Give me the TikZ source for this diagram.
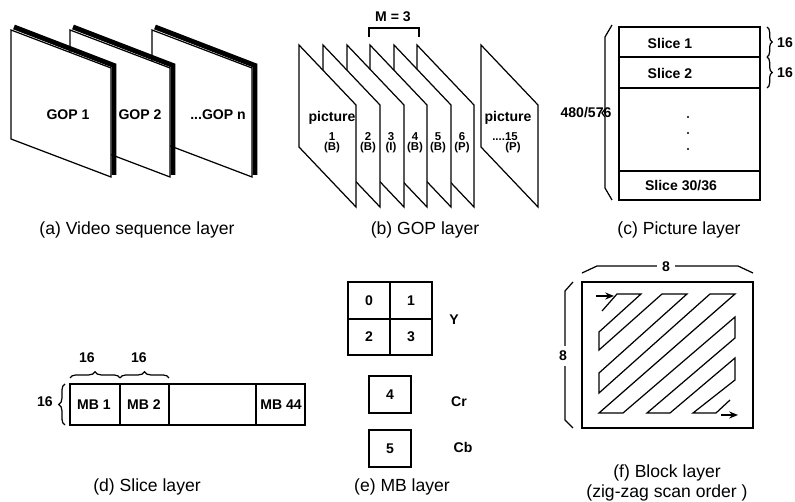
\documentclass[tikz,border=0pt]{standalone}
\usepackage{fontspec}
\setmainfont{Liberation Sans}
\usetikzlibrary{arrows.meta,decorations.pathreplacing}

\begin{document}
\begin{tikzpicture}[
  x=0.02cm, y=-0.02cm,
  line width=0.7pt,
  every node/.style={inner sep=0pt},
  label/.style={font=\fontsize{8}{9}\selectfont\bfseries},
  small/.style={font=\fontsize{6.5}{7}\selectfont\bfseries},
  caption/.style={font=\fontsize{10}{11.5}\selectfont, align=center},
  page/.style={draw, fill=white, line join=miter},
  shadow/.style={line width=2.8pt, line join=miter},
  thickbox/.style={draw, line width=1.3pt},
  brace/.style={decorate, decoration={brace, amplitude=#1}},
  brace/.default=3pt,
  arrow/.style={-{Stealth[length=5pt,width=4pt]}, line width=0.8pt}
]
\useasboundingbox (0,0) rectangle (795,502);

% (a) video sequence
\foreach \px in {152,70,11} {
  \draw[shadow] (\px+3,27) -- (\px+103,65.5) -- (\px+103,175);
  \draw[page] (\px,30) -- (\px+100,68) -- (\px+100,177) -- (\px,139) -- cycle;
}
\node[label] (gop1) at (68,115) {GOP 1};
\node[label] (gop2) at (140,115) {GOP 2};
\node[label] (gopn) at (218,115) {...GOP n};
\node[caption] (capa) at (137,230) {(a) Video sequence layer};

% (b) group of pictures
\foreach \px in {417,394,370,347,323,299}
  \draw[page] (\px,45) -- (\px+57,105) -- (\px+57,207) -- (\px,147) -- cycle;
\draw[page] (481,45) -- (538,105) -- (538,207) -- (481,147) -- cycle;
\draw (369,37) -- (369,28) -- (419,28) -- (419,37);
\node[label] (mthree) at (393,17) {M = 3};
\node[label] (pic1) at (332,118) {picture};
\foreach \n/\t/\x in {1/B/332, 2/B/368, 3/I/391, 4/B/415, 5/B/438, 6/P/462} {
  \node[small] (num\n) at (\x,137) {\n};
  \node[small] (type\n) at (\x,148) {(\t)};
}
\node[label] (pic15) at (508,118) {picture};
\node[small] (num15) at (505,137) {....15};
\node[small] (type15) at (513,148) {(P)};
\node[caption] (capb) at (425,230) {(b) GOP layer};

% (c) picture
\draw (619,27) rectangle (760,200);
\draw (619,57) -- (760,57);
\draw (619,88) -- (760,88);
\draw (619,171) -- (760,171);
\node[label] (slice1) at (670,43) {Slice 1};
\node[label] (slice2) at (670,73) {Slice 2};
\node[label] (slicen) at (681,186) {Slice 30/36};
\foreach \y in {117,133,149}
  \fill (688,\y) circle (1.1);
\draw (612,25) -- (605,37) -- (605,109) -- (602,113) -- (605,117) -- (605,188) -- (612,200);
\node[label] (lines) at (586,113) {480/576};
\draw[brace] (767,27) -- (767,57);
\draw[brace] (767,57) -- (767,88);
\node[label] (sl16a) at (785,43) {16};
\node[label] (sl16b) at (785,73) {16};
\node[caption] (capc) at (679,230) {(c) Picture layer};

% (d) slice
\draw (70,384) rectangle (305,425);
\foreach \x in {120,169,256}
  \draw (\x,384) -- (\x,425);
\node[label] (mb1) at (94,405) {MB 1};
\node[label] (mb2) at (144,405) {MB 2};
\node[label] (mb44) at (281,405) {MB 44};
\draw[brace=3.5pt] (70,378) -- (120,378);
\draw[brace=3.5pt] (120,378) -- (169,378);
\draw[brace=3.5pt] (65,425) -- (65,384);
\node[label] (mbw1) at (87,358) {16};
\node[label] (mbw2) at (139,358) {16};
\node[label] (mbh) at (45,402) {16};
\node[caption] (capd) at (147,487) {(d) Slice layer};

% (e) macroblock
\draw[thickbox] (348,282) rectangle (432,355);
\draw[line width=1.3pt] (390,282) -- (390,355);
\draw[line width=1.3pt] (348,319) -- (432,319);
\node[label] (y0) at (369,301) {0};
\node[label] (y1) at (411,301) {1};
\node[label] (y2) at (369,337) {2};
\node[label] (y3) at (411,337) {3};
\node[label] (luma) at (454,320) {Y};
\draw[thickbox] (369,376) rectangle (411,413);
\node[label] (cr) at (390,395) {4};
\node[label] (crname) at (459,402) {Cr};
\draw[thickbox] (369,430) rectangle (411,467);
\node[label] (cb) at (390,449) {5};
\node[label] (cbname) at (463,447) {Cb};
\node[caption] (cape) at (402,487) {(e) MB layer};

% (f) block with zig-zag scan
\draw (582,282) rectangle (753,428);
\draw (582,273) -- (597,266) -- (738,266) -- (753,273);
\node[label, fill=white, inner xsep=3pt] (blkw) at (666,267) {8};
\draw (573,282) -- (565,291) -- (565,420) -- (573,428);
\node[label, fill=white, inner ysep=3pt] (blkh) at (563,356) {8};
\draw[line join=miter] (602,311) -- (617,294) -- (641,294) -- (599,332) -- (599,350)
  -- (662,294) -- (687,294) -- (599,373) -- (599,393) -- (710,294) -- (735,294)
  -- (599,413) -- (623,413) -- (735,317) -- (735,338) -- (647,413) -- (670,413)
  -- (735,358) -- (735,380) -- (693,413) -- (716,413) -- (730,400);
\coordinate (scanin) at (596,296);
\coordinate (scanfrom) at (614,296);
\coordinate (scanend) at (721,415);
\coordinate (scanout) at (738,415);
\draw[arrow] (scanin) -- (scanfrom);
\draw[arrow] (scanend) -- (scanout);
\node[caption] (capf) at (667,483) {(f) Block layer\\(zig-zag scan order )};
\end{tikzpicture}
\end{document}
